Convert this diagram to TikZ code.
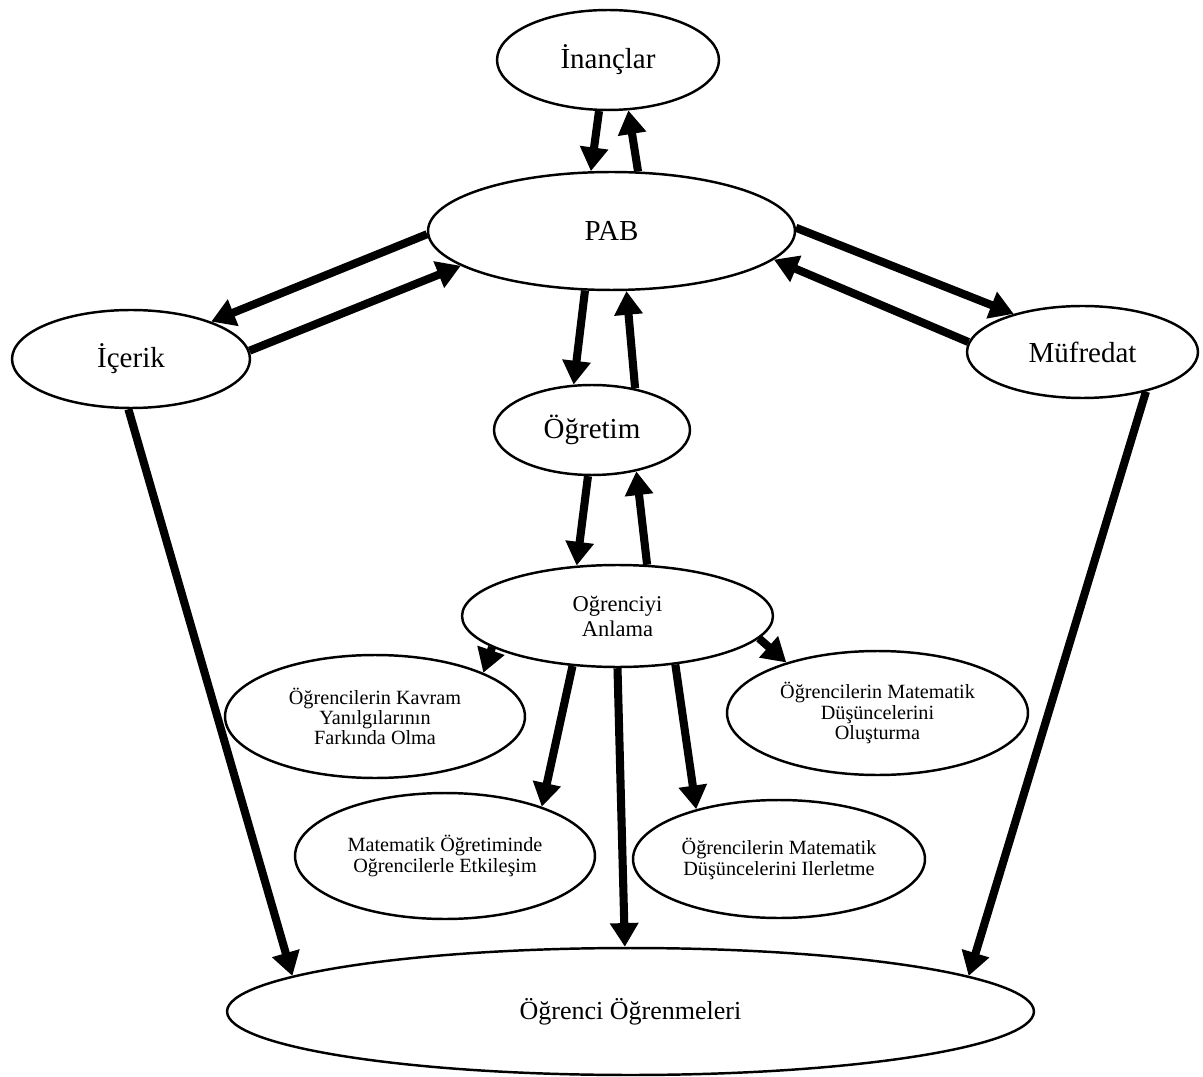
\documentclass[tikz,border=0pt]{standalone}
\usepackage{fontspec}
\setmainfont{Liberation Serif}
\usetikzlibrary{shapes.geometric, arrows.meta}
\newcommand{\ovalfont}{\fontsize{16.5}{19}\selectfont}
\newcommand{\midfont}{\fontsize{12.8}{14.2}\selectfont}
\newcommand{\subfont}{\fontsize{11.5}{11.5}\selectfont}
\newcommand{\basefont}{\fontsize{14.8}{17}\selectfont}
\tikzset{
  oval/.style={ellipse, draw, line width=1.4pt, inner sep=0pt,
    align=center, font=\ovalfont},
  midoval/.style={oval, font=\midfont},
  suboval/.style={oval, font=\subfont},
  arrow/.style={-{Triangle[length=13.5pt, width=15.5pt]}, line width=4.6pt},
}
\begin{document}
\begin{tikzpicture}[x=0.02cm, y=-0.02cm]
  \useasboundingbox (0,0) rectangle (1203,1077);

  % Upper level
  \node[oval, minimum width=4.44cm, minimum height=2cm] (inanc) at (608,60) {İnançlar};
  \node[oval, minimum width=7.34cm, minimum height=2.36cm] (pab) at (611.5,231) {PAB};
  \node[oval, minimum width=4.76cm, minimum height=1.96cm] (icerik) at (131,359) {İçerik};
  \node[oval, minimum width=4.62cm, minimum height=1.84cm] (mufredat) at (1082.5,352) {Müfredat};
  \node[oval, minimum width=3.92cm, minimum height=1.8cm] (ogretim) at (592,430) {Öğretim};

  % Understanding the student
  \node[midoval, minimum width=6.22cm, minimum height=2.04cm] (anlama) at (617.5,616) {Oğrenciyi\\Anlama};
  \node[suboval, minimum width=6cm, minimum height=2.46cm] (kavram) at (375,716.5)
    {Öğrencilerin Kavram\\Yanılgılarının\\Farkında Olma};
  \node[suboval, minimum width=6.02cm, minimum height=2.48cm] (olustur) at (877.5,713)
    {Öğrencilerin Matematik\\Düşüncelerini\\Oluşturma};
  \node[suboval, minimum width=6cm, minimum height=2.52cm] (etkilesim) at (445,856)
    {Matematik Öğretiminde\\Oğrencilerle Etkileşim};
  \node[suboval, minimum width=5.84cm, minimum height=2.36cm] (ilerlet) at (779,859)
    {Öğrencilerin Matematik\\Düşüncelerini Ilerletme};

  % Outcome
  \node[oval, font=\basefont, minimum width=16.14cm, minimum height=2.54cm] (ogrenme) at (630.5,1011.5)
    {Öğrenci Öğrenmeleri};

  % Arrows around PAB
  \draw[arrow] (inanc.260) -- (pab.109);
  \draw[arrow] (pab.66) -- (inanc.292);
  \draw[arrow] (pab.181) -- (icerik.25);
  \draw[arrow] (icerik.4) -- (pab.193.5);
  \draw[arrow] (pab.1) -- (mufredat.151);
  \draw[arrow] (mufredat.175) -- (pab.350);
  \draw[arrow] (pab.246) -- (ogretim.112);
  \draw[arrow] (ogretim.44) -- (pab.284);

  % Arrows below
  \draw[arrow] (ogretim.265) -- (anlama.129);
  \draw[arrow] (anlama.60) -- (ogretim.317);
  \draw[arrow] (anlama.194) -- (kavram.22);
  \draw[arrow] (anlama.351) -- (olustur.151);
  \draw[arrow] (anlama.228) -- (etkilesim.27);
  \draw[arrow] (anlama.320) -- (ilerlet.149);
  \draw[arrow] (anlama.south) -- (ogrenme.95);
  \draw[arrow] (icerik.267) -- (ogrenme.174);
  \draw[arrow] (mufredat.328) -- (ogrenme.6);

\end{tikzpicture}
\end{document}
